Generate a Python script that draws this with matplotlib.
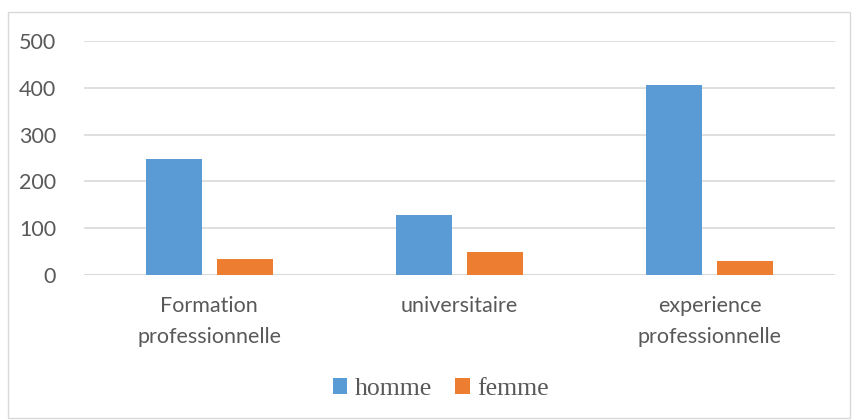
import numpy as np
import matplotlib.pyplot as plt
from matplotlib.patches import Rectangle

categories = ["Formation\nprofessionnelle", "universitaire", "experience\nprofessionnelle"]
homme = [247, 129, 405]
femme = [35, 50, 29]

bleu = "#5B9BD5"
orange = "#ED7D31"
gris = "#595959"

fig = plt.figure(figsize=(8.52, 4.2), dpi=100)
fig.patches.append(Rectangle((8 / 852, 2 / 420), 842 / 852, 406 / 420, transform=fig.transFigure,
                             fill=False, edgecolor="#D9D9D9", linewidth=1))

ax = fig.add_axes([84 / 852, 145 / 420, 751 / 852, 234 / 420])

x = np.arange(len(categories))
largeur = 0.224
ecart = 0.06
ax.bar(x - (largeur + ecart) / 2, homme, largeur, color=bleu, label="homme", zorder=3)
ax.bar(x + (largeur + ecart) / 2, femme, largeur, color=orange, label="femme", zorder=3)

ax.set_xlim(-0.5, 2.5)
ax.set_ylim(0, 500)
ax.set_yticks(range(0, 501, 100))
ax.yaxis.grid(True, color="#D9D9D9", linewidth=1.2, zorder=0)
for s in ax.spines.values():
    s.set_visible(False)
ax.axhline(0, color="#D9D9D9", linewidth=1.2, zorder=2)

ax.set_xticks(x)
ax.set_xticklabels(categories, fontsize=15.5, color=gris, family="Lato", linespacing=1.7)
ax.tick_params(axis="both", length=0, colors=gris, labelsize=15.5)
ax.tick_params(axis="x", pad=15)
ax.tick_params(axis="y", pad=20)
for t in ax.get_yticklabels():
    t.set_family("Lato")

ax.legend(loc="center", bbox_to_anchor=(441 / 852, 31 / 420), bbox_transform=fig.transFigure,
          ncol=2, frameon=False, handlelength=0.55, handleheight=0.55, handletextpad=0.3,
          columnspacing=0.9, prop={"family": "Liberation Serif", "size": 18.5}, labelcolor=gris)

fig.savefig("out.png", dpi=100)
